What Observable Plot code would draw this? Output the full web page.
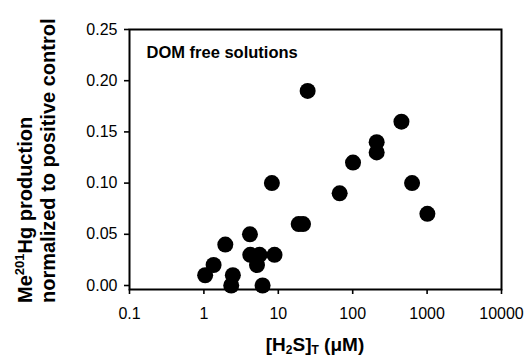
<!DOCTYPE html>
<html>
<head>
<meta charset="utf-8">
<script src="https://cdn.jsdelivr.net/npm/d3@7"></script>
<script src="https://cdn.jsdelivr.net/npm/@observablehq/plot@0.6"></script>
<style>
  html, body { margin: 0; padding: 0; background: #fff; }
  #chart { width: 526px; height: 359px; }
</style>
</head>
<body>
<div id="chart"></div>
<script>
// H2S total concentration (µM) and normalized Me201Hg production
const h2s = [1.04, 1.35, 1.94, 2.33, 2.45, 4.16, 4.2, 5.6, 5.17, 6.15, 8.2, 8.9, 18.8, 21.5, 24.8, 66.8, 101, 210, 210, 452, 628, 1009];
const production = [0.01, 0.02, 0.04, 0.0, 0.01, 0.05, 0.03, 0.03, 0.02, 0.0, 0.10, 0.03, 0.06, 0.06, 0.19, 0.09, 0.12, 0.14, 0.13, 0.16, 0.10, 0.07];
const xTicks = [0.1, 1, 10, 100, 1000, 10000];
const xTickLabels = ["0.1", "1", "10", "100", "1000", "10000"];
const yTicks = [0, 0.05, 0.10, 0.15, 0.20, 0.25];
const yTickLabels = ["0.00", "0.05", "0.10", "0.15", "0.20", "0.25"];
const annotation = "DOM free solutions";

const data = h2s.map((x, i) => ({x, y: production[i]}));
const xLab = new Map(xTicks.map((t, i) => [t, xTickLabels[i]]));
const yLab = new Map(yTicks.map((t, i) => [t, yTickLabels[i]]));
const font = "'Liberation Sans', Arial, sans-serif";

const W = 526, H = 359;
const plot = Plot.plot({
  width: W,
  height: H,
  marginLeft: 129,
  marginRight: 25,
  marginTop: 29,
  marginBottom: 70,
  style: {fontFamily: font, fontSize: "16px", color: "#000", background: "#fff", overflow: "visible"},
  x: {type: "log", domain: [0.1, 10000], label: null},
  y: {domain: [-0.0039, 0.25], label: null},
  marks: [
    Plot.axisX(xTicks, {tickFormat: d => xLab.get(d), tickSize: 5, tickPadding: 13, strokeWidth: 1.6, fontSize: 16, label: null}),
    Plot.axisY(yTicks, {tickFormat: d => yLab.get(d), tickSize: 5, tickPadding: 7, strokeWidth: 1.6, fontSize: 16, label: null}),
    Plot.dot(data, {x: "x", y: "y", r: 8, fill: "#000", stroke: "none"}),
    Plot.frame({stroke: "#000", strokeWidth: 2, fill: "none"}),
    Plot.text([annotation], {frameAnchor: "top-left", dx: 17, dy: 17, fontWeight: "bold", fontSize: 16.5, textAnchor: "start", lineAnchor: "top"})
  ]
});
document.getElementById("chart").appendChild(plot);

// Axis titles with sub/superscripts
const svg = d3.select(plot);
const yl = svg.append("g").attr("transform", "translate(0,303) rotate(-90)")
  .attr("font-family", font).attr("font-weight", "bold").attr("font-size", 20).attr("fill", "#000").attr("text-anchor", "start");
const t1 = yl.append("text").attr("x", 0).attr("y", 32);
t1.append("tspan").text("Me");
t1.append("tspan").attr("dy", -8).attr("font-size", 13).text("201");
t1.append("tspan").attr("dy", 8).text("Hg production");
yl.append("text").attr("x", 0).attr("y", 55).text("normalized to positive control");

const xl = svg.append("text").attr("x", 315).attr("y", 351)
  .attr("font-family", font).attr("font-weight", "bold").attr("font-size", 19).attr("fill", "#000").attr("text-anchor", "middle");
xl.append("tspan").text("[H");
xl.append("tspan").attr("dy", 3).attr("font-size", 12).text("2");
xl.append("tspan").attr("dy", -3).text("S]");
xl.append("tspan").attr("dy", 3).attr("font-size", 12).text("T");
xl.append("tspan").attr("dy", -3).text(" (\u03bcM)");
</script>
</body>
</html>
